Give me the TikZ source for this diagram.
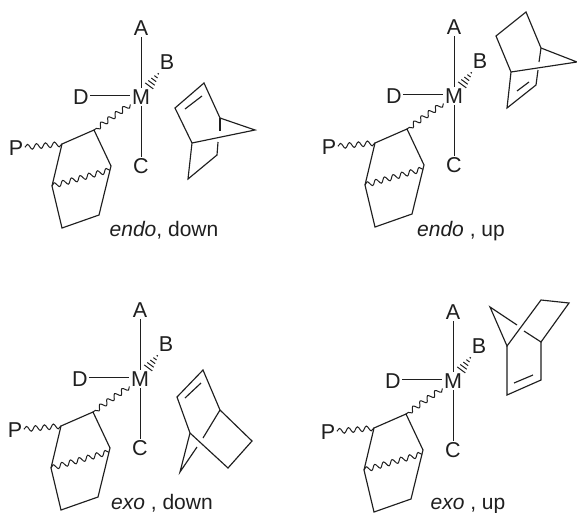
\documentclass[tikz,border=0pt]{standalone}
\usepackage{fontspec}
\setmainfont{Liberation Sans}
\usetikzlibrary{decorations.pathmorphing,decorations.markings}
\definecolor{ink}{gray}{0.12}
\tikzset{
  bond/.style={draw=ink,line width=1.15pt,line join=miter},
  thinbond/.style={draw=ink,line width=0.8pt},
  wavy/.style={bond,line width=1pt,decorate,decoration={snake,amplitude=2.6pt,segment length=9pt}},
  hashbond/.style={decoration={markings,
    mark=at position 0.12 with {\draw[ink,line width=1pt] (0,-5pt)--(0,5pt);},
    mark=at position 0.30 with {\draw[ink,line width=1pt] (0,-4pt)--(0,4pt);},
    mark=at position 0.48 with {\draw[ink,line width=1pt] (0,-3pt)--(0,3pt);},
    mark=at position 0.66 with {\draw[ink,line width=1pt] (0,-2pt)--(0,2pt);},
    mark=at position 0.84 with {\draw[ink,line width=1.2pt] (0,-.7pt)--(0,.7pt);}},
    postaction={decorate}},
  atom/.style={text=ink,inner sep=1.5pt,font=\fontsize{21.5}{24}\selectfont},
  caption/.style={text=ink,anchor=base,font=\fontsize{21}{24}\selectfont}
}
\begin{document}
\begin{tikzpicture}[x=1pt,y=-1pt]
\useasboundingbox[fill=white] (0,0) rectangle (577,512);
% the metal complex with the polymer end, once per panel
\foreach \n/\dx/\dy in {p/0/0,q/313/-1,r/-1/282,s/312/284}{
  \begin{scope}[shift={(\dx,\dy)}]
  \node[atom] (A\n) at (141,28) {A};
  \node[atom] (B\n) at (167,62) {B};
  \node[atom] (C\n) at (141,166) {C};
  \node[atom] (D\n) at (81,97) {D};
  \node[atom] (M\n) at (141,97) {M};
  \node[atom] (P\n) at (16,148) {P};
  \coordinate (r1\n) at (62,144);
  \coordinate (r2\n) at (94,130);
  \coordinate (r3\n) at (111,166);
  \coordinate (r4\n) at (99,215);
  \coordinate (r5\n) at (62,228);
  \coordinate (r6\n) at (52,186);
  \coordinate (r7\n) at (110,170);
  \draw[thinbond] (A\n) -- (M\n);
  \draw[thinbond] (C\n) -- (M\n);
  \draw[thinbond] ([yshift=2pt]D\n.east) -- ([yshift=2pt]M\n.west);
  \path[hashbond] (M\n) -- (B\n);
  \draw[wavy] (M\n) -- (r2\n);
  \draw[wavy] (P\n) -- (r1\n);
  \draw[bond] (r1\n) -- (r2\n) -- (r3\n) -- (r4\n) -- (r5\n) -- (r6\n) -- cycle; % ring
  \draw[wavy] (r6\n) -- (r7\n);
  \end{scope}
}
% endo, down
\draw[bond] (192,143) -- (175,108) -- (204,83) -- (220,118) -- (255,130) -- (192,143) -- (188,179) -- (217,155) -- (218,142);
\draw[bond] (220,118) -- (220,131);
\draw[bond] (185,109) -- (202,96);
% endo, up
\draw[bond] (511,72) -- (496,36) -- (526,12) -- (541,48) -- (577,62) -- (511,72) -- (507,108) -- (536,85) -- (538,70);
\draw[bond] (541,48) -- (539,62);
\draw[bond] (517,91) -- (529,82);
% exo, down
\draw[bond] (190,433) -- (177,397) -- (203,370) -- (220,410) -- (252,441) -- (228,468) -- (190,433) -- (180,472) -- (197,447);
\draw[bond] (220,410) -- (203,438);
\draw[bond] (185,398) -- (201,383);
% exo, up
\draw[bond] (517,325) -- (490,307) -- (507,346) -- (541,300) -- (569,303) -- (541,342) -- (524,331);
\draw[bond] (507,346) -- (507,395) -- (541,380) -- (541,342);
\draw[bond] (514,383) -- (533,375);
% captions
\node[caption] (cp) at (164,236) {\textit{endo}, down};
\node[caption] (cq) at (461,236) {\textit{endo} , up};
\node[caption] (cr) at (162,509) {\textit{exo} , down};
\node[caption] (cs) at (468,509) {\textit{exo} , up};
\end{tikzpicture}
\end{document}
